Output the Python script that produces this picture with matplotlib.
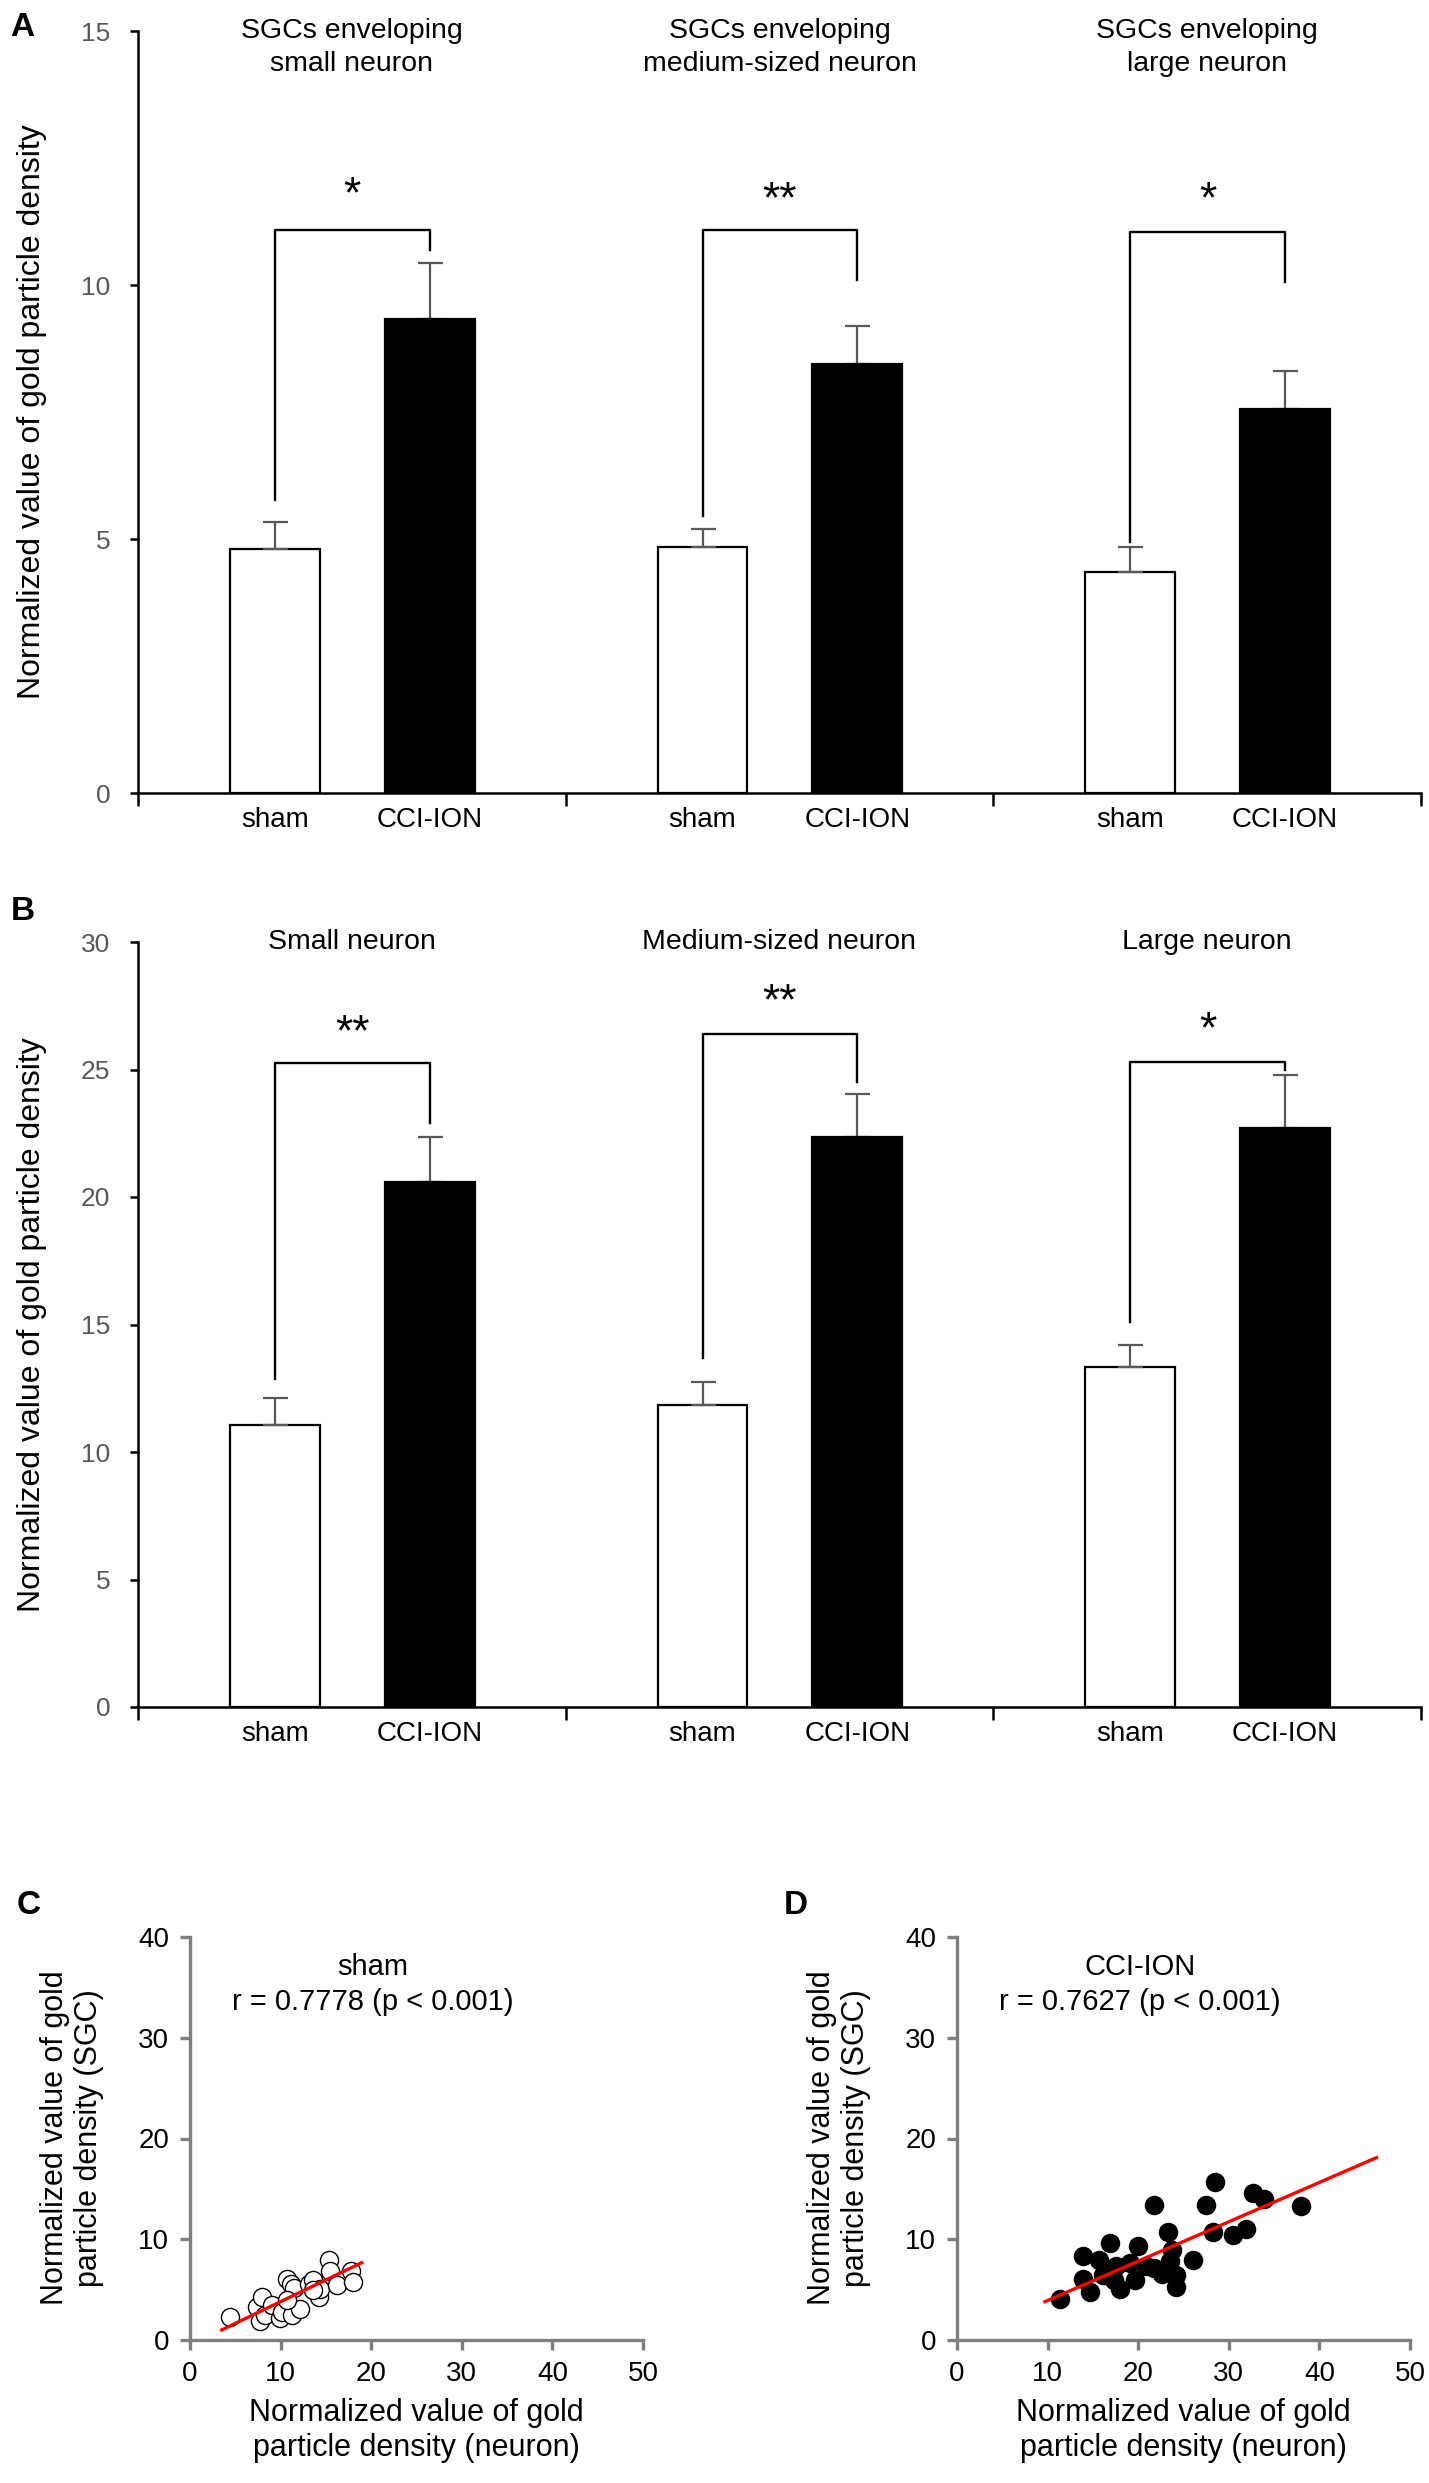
import numpy as np
import matplotlib
matplotlib.use("Agg")
import matplotlib.pyplot as plt

plt.rcParams['font.family'] = ['Liberation Sans', 'DejaVu Sans']

# ---- data ----
groups = [0, 1, 2]
bar_labels = ["sham", "CCI-ION"]

# panel A: SGCs
a_titles = ["SGCs enveloping\nsmall neuron", "SGCs enveloping\nmedium-sized neuron",
            "SGCs enveloping\nlarge neuron"]
a_sham = [4.8, 4.85, 4.35]
a_sham_err = [0.53, 0.35, 0.5]
a_cci = [9.33, 8.45, 7.55]
a_cci_err = [1.1, 0.75, 0.75]
a_br_top = [11.08, 11.08, 11.05]
a_br_left = [5.77, 5.45, 4.95]
a_br_right = [10.69, 10.1, 10.05]
a_stars = ["*", "**", "*"]
a_star_y = [11.75, 11.65, 11.65]

# panel B: neurons
b_titles = ["Small neuron", "Medium-sized neuron", "Large neuron"]
b_sham = [11.05, 11.85, 13.35]
b_sham_err = [1.05, 0.9, 0.85]
b_cci = [20.6, 22.35, 22.7]
b_cci_err = [1.75, 1.7, 2.1]
b_br_top = [25.25, 26.4, 25.3]
b_br_left = [12.85, 13.7, 15.1]
b_br_right = [22.9, 24.5, 25.0]
b_stars = ["**", "**", "*"]
b_star_y = [26.4, 27.6, 26.5]

# panel C: sham scatter
c_x = [4.4, 7.4, 8.0, 7.7, 8.3, 9.0, 9.9, 10.1, 10.7, 11.2, 11.5, 11.3, 12.1, 10.7,
       13.1, 13.6, 14.2, 14.3, 15.3, 15.4, 16.2, 17.8, 18.0, 13.6]
c_y = [2.3, 3.3, 4.3, 1.9, 2.5, 3.5, 2.2, 2.8, 6.1, 5.6, 5.2, 2.5, 3.1, 4.0,
       5.6, 6.0, 4.3, 5.1, 7.9, 6.8, 5.5, 6.8, 5.8, 5.0]
c_fit_x = [3.5, 18.95]
c_fit_y = [1.0, 7.67]

# panel D: CCI-ION scatter
d_x = [11.4, 13.9, 13.9, 14.7, 15.7, 16.1, 16.9, 17.6, 17.3, 18.0, 19.1, 19.6, 20.0,
       20.9, 21.7, 21.7, 22.6, 23.3, 23.7, 23.5, 24.2, 24.2, 26.1, 27.5, 28.5, 28.3,
       30.5, 31.9, 32.7, 33.9, 38.0]
d_y = [4.1, 8.3, 6.1, 4.8, 7.9, 6.5, 9.6, 7.3, 6.0, 5.1, 7.6, 6.0, 9.3,
       7.3, 13.4, 7.1, 6.6, 10.7, 8.9, 7.8, 6.5, 5.3, 7.9, 13.4, 15.7, 10.7,
       10.4, 11.0, 14.6, 14.0, 13.3]
d_fit_x = [9.7, 46.3]
d_fit_y = [3.8, 18.1]

W, H = 1429, 2483
fig = plt.figure(figsize=(W / 100, H / 100), dpi=100)


def px_axes(left, top, right, bottom):
    return fig.add_axes([left / W, 1 - bottom / H, (right - left) / W, (bottom - top) / H])


def bar_panel(ax, sham, sham_err, cci, cci_err, ymax, step, titles, title_y,
              br_top, br_left, br_right, stars, star_y):
    x = np.array(groups, dtype=float)
    xs = x + 0.32
    xc = x + 0.682
    zeros = np.zeros(3)
    ax.bar(xs, sham, width=0.21, color="white", edgecolor="black", linewidth=1.6, zorder=2)
    ax.bar(xc, cci, width=0.21, color="black", edgecolor="black", linewidth=1.6, zorder=2)
    ax.errorbar(xs, sham, yerr=[zeros, sham_err], fmt="none", ecolor="#595959",
                elinewidth=1.6, capsize=9, capthick=1.6, zorder=3)
    ax.errorbar(xc, cci, yerr=[zeros, cci_err], fmt="none", ecolor="#595959",
                elinewidth=1.6, capsize=9, capthick=1.6, zorder=1)
    for i in range(3):
        ax.plot([xs[i], xs[i], xc[i], xc[i]], [br_left[i], br_top[i], br_top[i], br_right[i]],
                color="black", lw=1.7, zorder=4)
        ax.text((xs[i] + xc[i]) / 2, star_y[i], stars[i], ha="center", va="center",
                fontsize=32)
        ax.text(x[i] + 0.5, title_y, titles[i], ha="center", va="center", fontsize=20.5,
                linespacing=1.35)
    ax.set_xlim(0, 3)
    ax.set_ylim(0, ymax)
    for s in ["top", "right"]:
        ax.spines[s].set_visible(False)
    for s in ["left", "bottom"]:
        ax.spines[s].set_linewidth(1.8)
    ax.set_yticks(np.arange(0, ymax + 0.1, step))
    ax.tick_params(axis="y", length=6, width=1.8, labelsize=19, labelcolor="#595959", pad=14)
    ax.set_xticks([0, 1, 2, 3])
    ax.set_xticklabels([])
    ax.tick_params(axis="x", which="major", length=9, width=1.8)
    ax.set_xticks(np.concatenate([xs, xc]), minor=True)
    ax.set_xticklabels(bar_labels[:1] * 3 + bar_labels[1:] * 3, minor=True)
    ax.tick_params(axis="x", which="minor", length=0, labelsize=20, pad=10)


axA = px_axes(138, 31, 1421, 793)
bar_panel(axA, a_sham, a_sham_err, a_cci, a_cci_err, 15, 5, a_titles, 14.67,
          a_br_top, a_br_left, a_br_right, a_stars, a_star_y)
axB = px_axes(138, 942, 1421, 1707)
bar_panel(axB, b_sham, b_sham_err, b_cci, b_cci_err, 30, 5, b_titles, 30,
          b_br_top, b_br_left, b_br_right, b_stars, b_star_y)

for ax, top, bottom in [(axA, 31, 793), (axB, 942, 1707)]:
    fig.text(32 / W, 1 - (top + bottom) / 2 / H, "Normalized value of gold particle density",
             rotation=90, ha="center", va="center", fontsize=23,
             family=["Liberation Sans Narrow", "Liberation Sans"])

fig.text(22 / W, 1 - 27 / H, "A", fontsize=24, fontweight="bold", ha="center", va="center")
fig.text(23 / W, 1 - 911 / H, "B", fontsize=24, fontweight="bold", ha="center", va="center")


def scatter_panel(ax, xs, ys, fx, fy, face, title, r_text):
    ax.scatter(xs, ys, s=170, facecolors=face, edgecolors="black", linewidths=1.0, zorder=2)
    ax.plot(fx, fy, color="#ff0000", lw=2.4, zorder=3)
    ax.set_xlim(0, 50)
    ax.set_ylim(0, 40)
    ax.set_xticks(np.arange(0, 51, 10))
    ax.set_yticks(np.arange(0, 41, 10))
    for s in ["top", "right"]:
        ax.spines[s].set_visible(False)
    for s in ["left", "bottom"]:
        ax.spines[s].set_linewidth(2.4)
        ax.spines[s].set_color("#7f7f7f")
    ax.tick_params(length=7, width=2.4, color="#7f7f7f", labelsize=20, labelcolor="black")
    ax.tick_params(axis="y", pad=8)
    ax.tick_params(axis="x", pad=8)
    ax.text(20.2, 37.0, title, ha="center", va="center", fontsize=21)
    ax.text(20.2, 33.5, r_text, ha="center", va="center", fontsize=21)
    ax.set_xlabel("Normalized value of gold\nparticle density (neuron)", fontsize=22,
                  labelpad=8)


axC = px_axes(190, 1937, 643, 2340)
scatter_panel(axC, c_x, c_y, c_fit_x, c_fit_y, "white", "sham", "r = 0.7778 (p < 0.001)")
axD = px_axes(957, 1937, 1410, 2340)
scatter_panel(axD, d_x, d_y, d_fit_x, d_fit_y, "black", "CCI-ION", "r = 0.7627 (p < 0.001)")

for x0 in [72, 839]:
    fig.text(x0 / W, 1 - 2138 / H, "Normalized value of gold\nparticle density (SGC)",
             rotation=90, ha="center", va="center", fontsize=22)

fig.text(29 / W, 1 - 1905 / H, "C", fontsize=24, fontweight="bold", ha="center", va="center")
fig.text(796 / W, 1 - 1905 / H, "D", fontsize=24, fontweight="bold", ha="center", va="center")

fig.savefig("out.png", dpi=100)
